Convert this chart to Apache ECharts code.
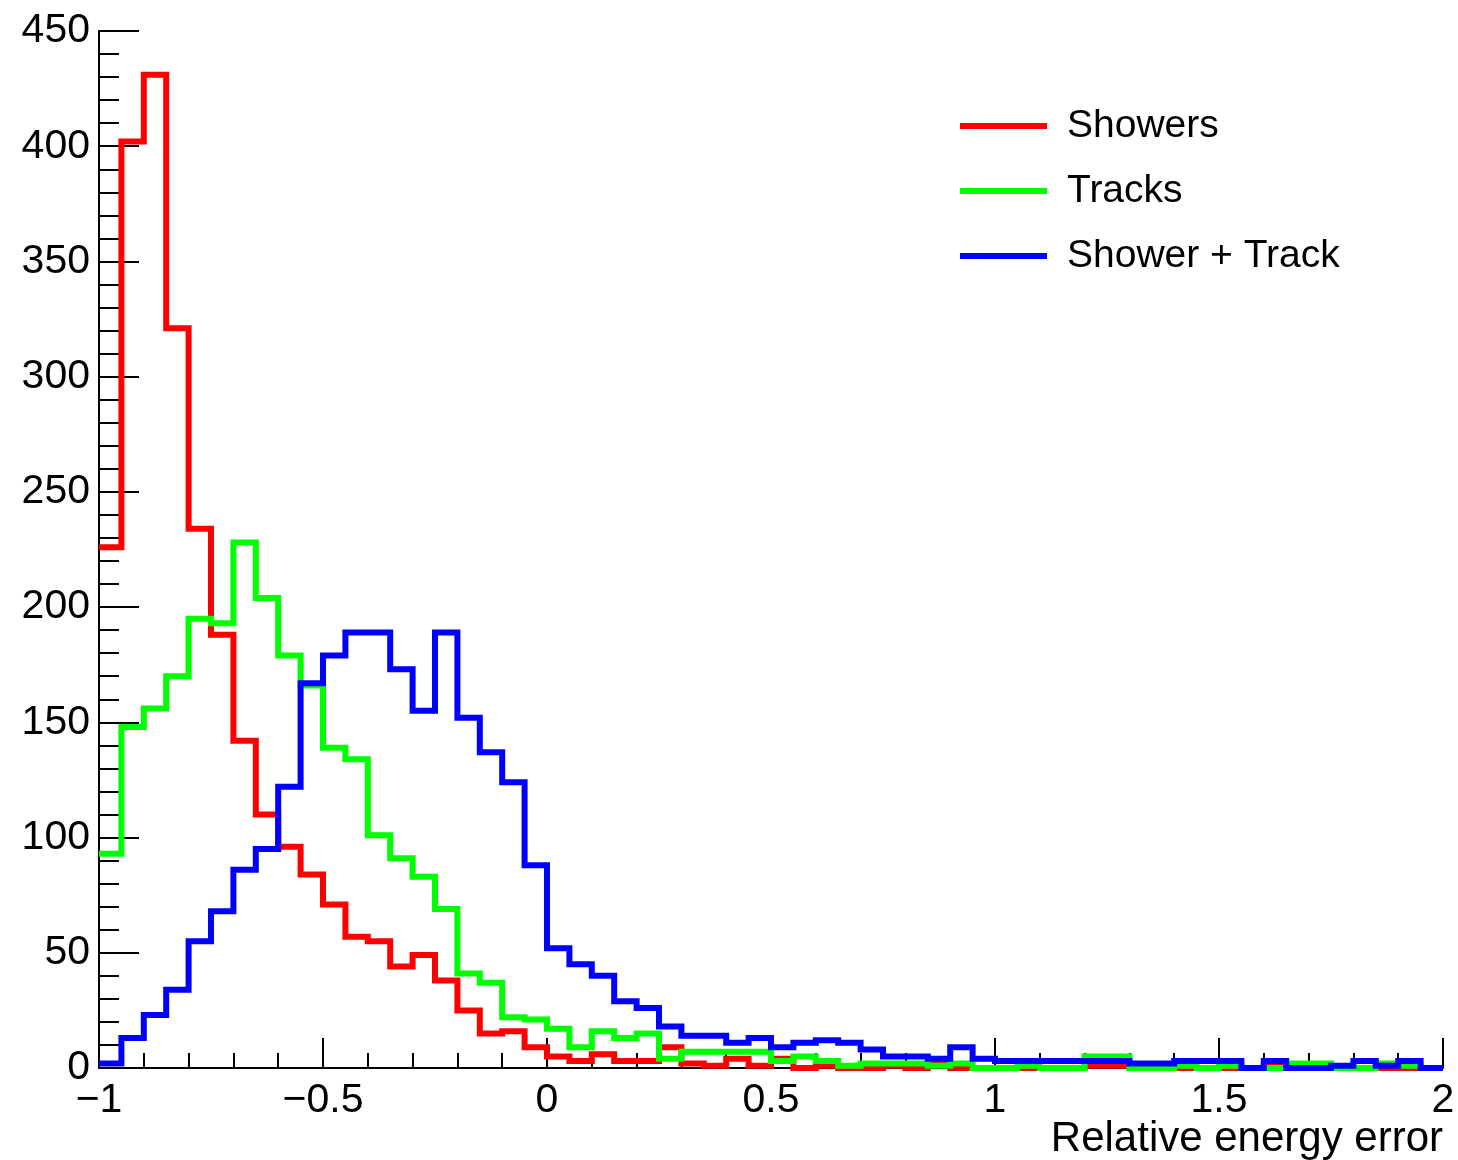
<html>
    <head>
        <meta charset="utf-8">
        <script src="https://cdn.jsdelivr.net/npm/echarts@6/dist/echarts.min.js"></script>
        <style>
            html, body { margin: 0; padding: 0; background: #fff; }
            #main { width: 1458px; height: 1160px; }
        </style>
    </head>
    <body>
        <div id="main"></div>
        <script>

        // histogram binning: 60 bins of 0.05 from -1 to 2
        var binLow = -1;
        var binWidth = 0.05;

        var seriesNames = ['Showers', 'Tracks', 'Shower + Track'];
        var seriesColors = ['#ff0000', '#00ff00', '#0000ff'];

        var showers = [
            226, 402, 431, 321, 234, 188, 142, 110, 96, 84,
            71, 57, 55, 44, 49, 38, 25, 15, 16, 9,
            5, 3, 6, 3, 3, 9, 2, 1, 4, 1,
            4, 0, 1, 0, 0, 1, 0, 2, 0, 0,
            0, 0, 0, 0, 1, 1, 0, 0, 0, 0,
            0, 0, 1, 0, 0, 0, 0, 0, 0, 0
        ];
        var tracks = [
            93, 148, 156, 170, 195, 193, 228, 204, 179, 166,
            139, 134, 101, 91, 83, 69, 41, 37, 22, 21,
            17, 9, 16, 13, 15, 4, 7, 7, 7, 7,
            3, 5, 3, 1, 2, 2, 2, 1, 2, 0,
            0, 1, 0, 0, 5, 5, 0, 0, 1, 0,
            1, 0, 0, 2, 2, 0, 0, 2, 1, 0
        ];
        var showerTrack = [
            2, 13, 23, 34, 55, 68, 86, 95, 122, 167,
            179, 189, 189, 173, 155, 189, 152, 137, 124, 88,
            52, 45, 40, 29, 26, 18, 14, 14, 11, 13,
            9, 11, 12, 11, 8, 5, 5, 4, 9, 4,
            3, 3, 3, 3, 3, 3, 2, 2, 3, 3,
            3, 0, 3, 0, 0, 1, 3, 1, 3, 0
        ];

        var fontFamily = '"Liberation Sans", Arial, Helvetica, sans-serif';

        // bin contents -> step points at bin edges
        function toSteps(counts) {
            var pts = [];
            for (var i = 0; i < counts.length; i++) {
                pts.push([+(binLow + i * binWidth).toFixed(2), counts[i]]);
            }
            pts.push([+(binLow + counts.length * binWidth).toFixed(2), counts[counts.length - 1]]);
            return pts;
        }

        var myChart = echarts.init(document.getElementById('main'));

        var allCounts = [showers, tracks, showerTrack];
        var series = [];
        for (var s = 0; s < allCounts.length; s++) {
            series.push({
                name: seriesNames[s],
                type: 'line',
                step: 'end',
                showSymbol: false,
                symbol: 'none',
                lineStyle: { color: seriesColors[s], width: 6, join: 'miter' },
                itemStyle: { color: seriesColors[s] },
                data: toSteps(allCounts[s])
            });
        }

        var option = {
            animation: false,
            backgroundColor: '#fff',
            grid: {
                left: 99,
                right: 15,
                top: 31,
                bottom: 92,
                outerBoundsMode: 'none'
            },
            legend: {
                orient: 'vertical',
                left: 960,
                top: 106,
                padding: 0,
                itemWidth: 87,
                itemHeight: 6,
                itemGap: 25,
                icon: 'rect',
                data: seriesNames,
                textStyle: {
                    fontFamily: fontFamily,
                    fontSize: 39,
                    lineHeight: 40,
                    color: '#000',
                    padding: [0, 0, 0, 15]
                }
            },
            xAxis: {
                type: 'value',
                min: -1,
                max: 2,
                interval: 0.5,
                axisLine: { onZero: false, lineStyle: { color: '#000', width: 2 } },
                axisTick: { inside: true, length: 30, lineStyle: { color: '#000', width: 2 } },
                minorTick: { show: true, splitNumber: 5, length: 15, lineStyle: { color: '#000', width: 2 } },
                splitLine: { show: false },
                axisLabel: {
                    margin: 12,
                    fontFamily: fontFamily,
                    fontSize: 41,
                    color: '#000',
                    showMinLabel: true,
                    showMaxLabel: true,
                    formatter: function (v) {
                        return v < 0 ? '\u2212' + (-v) : String(v);
                    }
                }
            },
            yAxis: {
                type: 'value',
                min: 0,
                max: 450,
                interval: 50,
                axisLine: { show: true, onZero: false, lineStyle: { color: '#000', width: 2 } },
                axisTick: { show: true, inside: true, length: 40, lineStyle: { color: '#000', width: 2 } },
                minorTick: { show: true, splitNumber: 5, length: 20, lineStyle: { color: '#000', width: 2 } },
                splitLine: { show: false },
                axisLabel: {
                    margin: 9,
                    fontFamily: fontFamily,
                    fontSize: 41,
                    color: '#000'
                }
            },
            graphic: [{
                type: 'text',
                right: 15,
                top: 1118,
                style: {
                    text: 'Relative energy error',
                    fontFamily: fontFamily,
                    fontSize: 42,
                    fill: '#000'
                }
            }],
            series: series
        };

        myChart.setOption(option);

        </script>
    </body>
</html>
